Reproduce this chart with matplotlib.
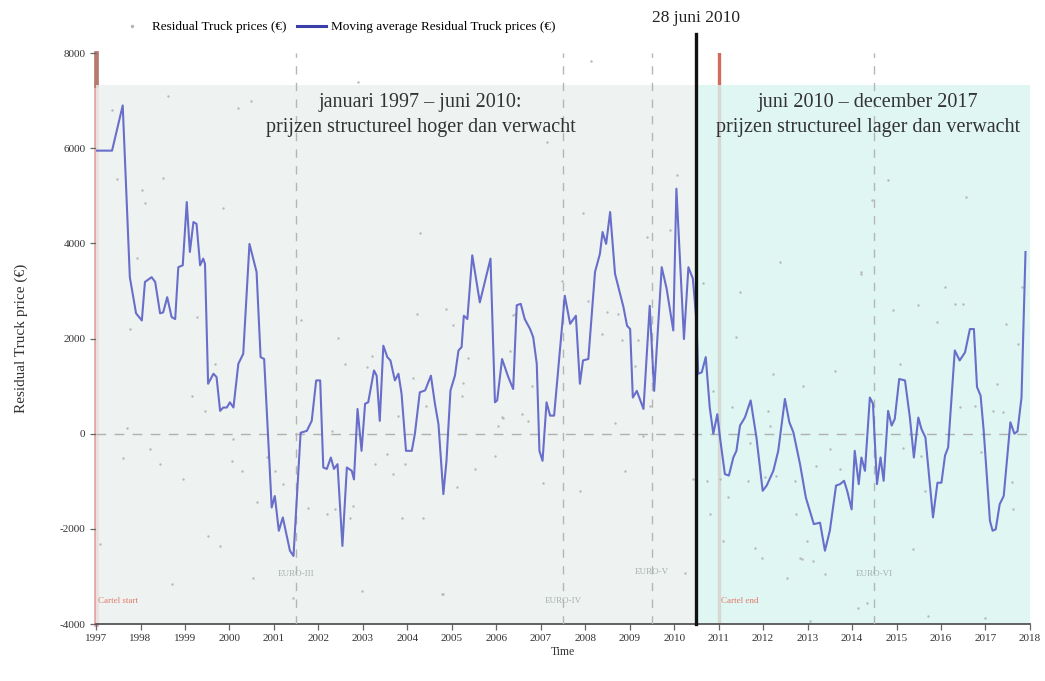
import matplotlib
matplotlib.use("Agg")
import matplotlib.pyplot as plt
from matplotlib.lines import Line2D
import numpy as np

plt.rcParams['font.family'] = ['Liberation Serif', 'DejaVu Serif']

# ---- data ----
ma_years = [1997.00, 1997.36, 1997.60, 1997.76, 1997.90, 1998.03, 1998.10, 1998.25, 1998.33, 1998.44,
            1998.51, 1998.60, 1998.70, 1998.78, 1998.85, 1998.95, 1999.04, 1999.11, 1999.19, 1999.26,
            1999.34, 1999.41, 1999.45, 1999.52, 1999.64, 1999.71, 1999.79, 1999.86, 1999.94, 2000.01,
            2000.09, 2000.20, 2000.31, 2000.45, 2000.61, 2000.70, 2000.78, 2000.95, 2001.02, 2001.11,
            2001.20, 2001.28, 2001.36, 2001.44, 2001.60, 2001.74, 2001.85, 2001.95, 2002.04, 2002.11,
            2002.19, 2002.28, 2002.35, 2002.43, 2002.54, 2002.64, 2002.75, 2002.80, 2002.88, 2002.97,
            2003.05, 2003.12, 2003.25, 2003.31, 2003.38, 2003.46, 2003.55, 2003.62, 2003.72, 2003.80,
            2003.87, 2003.97, 2004.10, 2004.17, 2004.28, 2004.40, 2004.53, 2004.62, 2004.70, 2004.81,
            2004.88, 2004.97, 2005.07, 2005.15, 2005.22, 2005.27, 2005.35, 2005.46, 2005.63, 2005.87,
            2005.97, 2006.02, 2006.13, 2006.27, 2006.38, 2006.46, 2006.55, 2006.64, 2006.76, 2006.83,
            2006.91, 2006.97, 2007.04, 2007.13, 2007.21, 2007.30, 2007.43, 2007.54, 2007.66, 2007.79,
            2007.88, 2007.95, 2008.07, 2008.22, 2008.33, 2008.39, 2008.47, 2008.56, 2008.67, 2008.86,
            2008.94, 2009.01, 2009.07, 2009.16, 2009.31, 2009.45, 2009.55, 2009.72, 2009.83, 2009.98,
            2010.05, 2010.22, 2010.32, 2010.42, 2010.50, 2010.54, 2010.62, 2010.71, 2010.80, 2010.88,
            2010.97, 2011.03, 2011.14, 2011.23, 2011.33, 2011.40, 2011.48, 2011.59, 2011.72, 2011.85,
            2011.99, 2012.08, 2012.23, 2012.34, 2012.49, 2012.59, 2012.68, 2012.83, 2012.96, 2013.05,
            2013.14, 2013.28, 2013.39, 2013.50, 2013.64, 2013.73, 2013.82, 2013.89, 2013.99, 2014.06,
            2014.15, 2014.21, 2014.29, 2014.40, 2014.47, 2014.56, 2014.64, 2014.71, 2014.81, 2014.89,
            2014.96, 2015.06, 2015.19, 2015.30, 2015.39, 2015.49, 2015.56, 2015.65, 2015.82, 2015.92,
            2016.01, 2016.09, 2016.16, 2016.31, 2016.42, 2016.54, 2016.65, 2016.74, 2016.81, 2016.89,
            2016.96, 2017.10, 2017.16, 2017.23, 2017.32, 2017.41, 2017.56, 2017.65, 2017.72, 2017.81,
            2017.90]
ma_values = [5950, 5950, 6900, 3290, 2530, 2380, 3190, 3290, 3190, 2530,
             2550, 2870, 2450, 2410, 3500, 3540, 4870, 3820, 4450, 4410,
             3540, 3680, 3570, 1050, 1260, 1190, 480, 550, 550, 660,
             550, 1470, 1680, 3990, 3400, 1610, 1570, -1550, -1310, -2040,
             -1760, -2110, -2460, -2570, 20, 60, 270, 1120, 1120, -710,
             -740, -500, -740, -640, -2360, -710, -780, -960, 520, -360,
             630, 660, 1330, 1220, 270, 1850, 1610, 1540, 1120, 1260,
             840, -360, -360, 0, 870, 910, 1220, 630, 200, -1270,
             -570, 910, 1220, 1750, 1820, 2480, 2410, 3750, 2760, 3680,
             660, 700, 1570, 1190, 940, 2700, 2730, 2410, 2200, 2030,
             1470, -360, -570, 660, 380, 380, 1750, 2900, 2310, 2480,
             1050, 1540, 1570, 3400, 3780, 4240, 3990, 4660, 3360, 2660,
             2270, 2200, 760, 900, 520, 2690, 900, 3500, 3050, 2170,
             5150, 1990, 3500, 3260, 2380, 1260, 1290, 1610, 550, 0,
             410, -80, -850, -880, -500, -360, 170, 340, 700, -80,
             -1200, -1090, -780, -360, 730, 240, 30, -640, -1340, -1620,
             -1900, -1870, -2460, -2040, -1090, -1060, -990, -1200, -1590, -360,
             -1060, -500, -780, 760, 630, -1060, -500, -990, 480, 170,
             310, 1150, 1120, 340, -500, 340, 100, -80, -1760, -1030,
             -1030, -460, -290, 1750, 1540, 1710, 2200, 2200, 980, 800,
             60, -1830, -2040, -2010, -1480, -1310, 240, 0, 50, 760,
             3820]

res_years = [1997.35, 1997.47, 1998.03, 1998.10, 1998.51, 1999.86, 2000.19, 1997.91, 1997.76, 1999.26,
             1999.15, 1999.45, 1999.68, 1997.69, 1998.21, 1997.61, 1998.44, 1998.96, 2000.08, 2000.28,
             2000.05, 2000.84, 2001.02, 2000.61, 2001.20, 1999.52, 1999.79, 1997.09, 2001.62, 1998.70,
             2000.53, 2001.43, 2002.97, 2004.77, 2004.28, 2004.88, 2004.21, 2002.44, 2002.60, 2003.20,
             2003.09, 2004.13, 2005.03, 2005.36, 2005.25, 2005.22, 2004.43, 2003.79, 2006.37, 2006.31,
             2006.12, 2006.04, 2002.30, 2003.54, 2003.27, 2003.95, 2003.68, 2005.97, 2005.52, 2005.11,
             2001.77, 2002.19, 2002.37, 2002.78, 2002.71, 2003.87, 2004.35, 2007.13, 2007.95, 2009.38,
             2009.91, 2010.06, 2007.47, 2008.06, 2008.48, 2008.74, 2008.37, 2008.82, 2009.19, 2006.42,
             2006.80, 2006.57, 2006.15, 2006.71, 2009.12, 2008.67, 2009.46, 2009.30, 2008.89, 2007.05,
             2007.88, 2010.43, 2004.80, 2010.25, 2011.82, 2011.97, 2012.53, 2012.87, 2013.39, 2014.13,
             2014.33, 2013.05, 2012.38, 2014.21, 2011.47, 2010.64, 2011.40, 2013.61, 2012.22, 2012.89,
             2010.87, 2011.29, 2012.11, 2012.15, 2011.70, 2013.50, 2013.20, 2013.73, 2012.04, 2011.66,
             2012.30, 2012.71, 2010.73, 2011.03, 2011.21, 2010.81, 2012.75, 2012.98, 2011.10, 2012.83,
             2013.12, 2014.81, 2014.44, 2016.57, 2016.09, 2015.49, 2014.92, 2016.31, 2016.49, 2015.90,
             2017.47, 2017.73, 2017.81, 2015.07, 2017.25, 2016.42, 2016.76, 2017.17, 2017.39, 2015.14,
             2015.56, 2016.91, 2017.59, 2015.64, 2017.62, 2014.21, 2015.37, 2002.89, 1998.62, 2000.48,
             2008.13, 2015.70, 2016.99]
res_values = [6800, 5360, 5115, 4840, 5370, 4735, 6840, 3685, 2210, 2450,
              800, 485, 1475, 130, -315, -505, -630, -945, -105, -780,
              -570, -500, -780, -1445, -1050, -2150, -2360, -2315, 2380, -3165,
              -3025, -3445, -3305, -3375, 4210, 2630, 2525, 2020, 1475, 1640,
              1395, 1180, 2275, 1600, 1075, 800, 590, 380, 2485, 1745,
              345, 170, 65, -430, -630, -630, -840, -465, -735, -1130,
              -1560, -1685, -1580, -1515, -1770, -1770, -1770, 6130, 4630, 4130,
              4275, 5430, 3220, 2800, 2555, 2525, 2105, 1960, 1960, 2525,
              1010, 420, 335, 275, 1430, 230, 590, -40, -780, -1030,
              -1200, -945, -3370, -2925, -2400, -2605, -3025, -2630, -2945, -3660,
              -3550, -3935, 3605, 3360, 2975, 3160, 2025, 1325, 1265, 1010,
              905, 555, 485, 170, -185, -315, -675, -735, -920, -990,
              -885, -990, -990, -945, -1340, -1685, -1685, -2250, -2250, -2605,
              -2675, 5325, 4905, 4975, 3080, 2695, 2590, 2730, 2735, 2345,
              2315, 1895, 3080, 1475, 1050, 555, 590, 485, 450, -290,
              -465, -395, -1025, -1200, -1580, 3395, -2420, 7390, 7100, 6990,
              7830, -3830, -3870]

x_ticks = list(range(1997, 2019))
y_ticks = [-4000, -2000, 0, 2000, 4000, 6000, 8000]

euro_years = [2001.5, 2007.5, 2009.5, 2014.5]
euro_labels = ["EURO-III", "EURO-IV", "EURO-V", "EURO-VI"]
euro_label_y = [-2950, -3520, -2900, -2950]
cartel_years = [1997.0, 2011.0]
cartel_labels = ["Cartel start", "Cartel end"]
split_year = 2010.5
shade_top = 7330

# ---- figure ----
fig = plt.figure(figsize=(10.45, 6.81), dpi=100)
ax = fig.add_axes([0.0919, 0.0837, 0.8937, 0.8383])
ax.set_xlim(1997, 2018)
ax.set_ylim(-4000, 8000)

red = "#d46a5c"
ax.plot([cartel_years[0]] * 2, [-4000, shade_top], color="#e2aaa6", lw=3.4, zorder=1, clip_on=False)
ax.plot([cartel_years[0]] * 2, [shade_top, 8000], color="#b47a72", lw=3.4, zorder=1, clip_on=False)
ax.axvline(cartel_years[1], color=red, lw=2.4, zorder=1)

ax.fill_between([1997, split_year], -4000, shade_top, color="#eaf0ee", alpha=0.8, zorder=2, lw=0)
ax.fill_between([split_year, 2018], -4000, shade_top, color="#d8f4f1", alpha=0.8, zorder=2, lw=0)

for ey in euro_years:
    ax.axvline(ey, color="#b5b5b5", lw=1.0, ls=(0, (6, 6)), zorder=3)
ax.axhline(0, color="#b0b0b0", lw=1.0, ls=(0, (7, 6)), zorder=3)

ax.scatter(res_years, res_values, s=3, color="#b4b8b8", zorder=4, lw=0)
ax.plot(ma_years, ma_values, color="#5a60c6", lw=1.5, alpha=0.9, zorder=5)

ax.plot([split_year, split_year], [-4000, 8400], color="#111111", lw=2.4, zorder=6, clip_on=False)
ax.text(split_year, 8740, "28 juni 2010", ha="center", va="center", fontsize=12.5, color="#222222")

for ey, lab, ly in zip(euro_years, euro_labels, euro_label_y):
    ax.text(ey, ly, lab, ha="center", va="center", fontsize=6.5, color="#a8b0b0", zorder=7)
for cy, lab in zip(cartel_years, cartel_labels):
    ax.text(cy + 0.05, -3520, lab, ha="left", va="center", fontsize=6.5, color="#e07a6a", zorder=7)

ax.text(2004.3, 6700, "januari 1997 – juni 2010:\nprijzen structureel hoger dan verwacht",
        ha="center", va="center", fontsize=14.5, color="#333333", linespacing=1.4, zorder=7)
ax.text(2014.35, 6700, "juni 2010 – december 2017\nprijzen structureel lager dan verwacht",
        ha="center", va="center", fontsize=14.5, color="#333333", linespacing=1.4, zorder=7)

ax.set_xticks(x_ticks)
ax.set_xticklabels([str(t) for t in x_ticks], fontsize=8, color="#333333")
ax.set_yticks(y_ticks)
ax.set_yticklabels([str(t) for t in y_ticks], fontsize=8, color="#333333")
ax.tick_params(direction="out", length=4, color="#666666", width=0.9)
for s in ["top", "right"]:
    ax.spines[s].set_visible(False)
ax.spines["bottom"].set_color("#555555")
ax.spines["bottom"].set_linewidth(1.3)
ax.spines["left"].set_visible(False)
ax.set_xlabel("Time", fontsize=8.5, color="#333333", labelpad=2)
ax.set_ylabel("Residual Truck price (€)", fontsize=11, color="#333333", labelpad=23)

handles = [Line2D([], [], ls="none", marker=".", markersize=3, color="#b4b8b8"),
           Line2D([], [], color="#3a3ea8", lw=2.2)]
fig.legend(handles, ["Residual Truck prices (€)", "Moving average Residual Truck prices (€)"],
           loc="center", bbox_to_anchor=(0.322, 0.96), ncol=2, frameon=False, fontsize=9.5,
           handlelength=2.2, columnspacing=0.8, handletextpad=0.4)

fig.savefig("out.png", dpi=100, facecolor="white")
